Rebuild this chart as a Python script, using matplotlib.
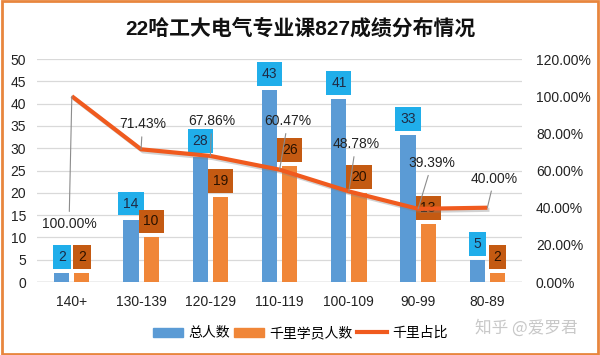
import numpy as np
import matplotlib.pyplot as plt
import matplotlib.patheffects as pe
from matplotlib.patches import Rectangle
from matplotlib.lines import Line2D
from matplotlib.patches import Patch

plt.rcParams['font.family'] = ['Liberation Sans', 'Noto Sans CJK SC', 'DejaVu Sans']

categories = ['140+', '130-139', '120-129', '110-119', '100-109', '90-99', '80-89']
total = [2, 14, 28, 43, 41, 33, 5]
qianli = [2, 10, 19, 26, 20, 13, 2]
ratio = [100.00, 71.43, 67.86, 60.47, 48.78, 39.39, 40.00]

# label offsets for the ratio labels (points)
ratio_off = [(-2, -92), (1, 18), (1, 25), (6, 35), (5, 34), (10, 33), (5, 21)]

blue = '#5B9BD5'
orange = '#F08638'
line_c = '#F05A1E'

fig = plt.figure(figsize=(6, 3.55), dpi=100)
fig.patches.append(Rectangle((0.004, 0.004), 0.992, 0.992, transform=fig.transFigure,
                             fill=False, edgecolor='#E8863E', linewidth=2))

ax = fig.add_axes([0.062, 0.2056, 0.808, 0.628])
x = np.arange(len(categories))
w = 0.22
ax.bar(x - 0.145, total, w, color=blue, zorder=2)
ax.bar(x + 0.145, qianli, w, color=orange, zorder=2)
ax.set_ylim(0, 50)
ax.set_xlim(-0.5, len(categories) - 0.5)
ax.set_yticks(range(0, 51, 5))
ax.grid(axis='y', color='#D9D9D9', linewidth=0.9, zorder=0)
ax.set_axisbelow(True)
for s in ax.spines.values():
    s.set_visible(False)
ax.tick_params(length=0, labelsize=10, colors='#222222')
ax.tick_params(axis='y', pad=8)
ax.tick_params(axis='x', pad=9)
ax.set_xticks(x)
ax.set_xticklabels(categories)
ax.axhline(0, color='#BFBFBF', linewidth=1, zorder=1)

for i in range(len(categories)):
    ax.annotate(str(total[i]), (x[i] - 0.145, total[i]), xytext=(0, 11.5),
                textcoords='offset points', ha='center', va='center', fontsize=10,
                color='#1F2A44', zorder=5,
                bbox=dict(boxstyle='square,pad=0.35', fc='#20AEEA', ec='none'))
    ax.annotate(str(qianli[i]), (x[i] + 0.145, qianli[i]), xytext=(0, 11.5),
                textcoords='offset points', ha='center', va='center', fontsize=10,
                color='#2A1200', zorder=5,
                bbox=dict(boxstyle='square,pad=0.35', fc='#C45A12', ec='none'))

ax2 = ax.twinx()
ax2.plot(x, ratio, color=line_c, linewidth=3, zorder=3, solid_capstyle='butt',
         path_effects=[pe.SimpleLineShadow(offset=(1.5, -1.5), shadow_color='gray', alpha=0.35),
                       pe.Normal()])
ax2.set_ylim(0, 120)
ax2.set_yticks(range(0, 121, 20))
ax2.set_yticklabels(['%.2f%%' % v for v in range(0, 121, 20)])
for s in ax2.spines.values():
    s.set_visible(False)
ax2.tick_params(length=0, labelsize=10, colors='#222222', pad=10)

for i in range(len(categories)):
    ax2.annotate('%.2f%%' % ratio[i], (x[i], ratio[i]), xytext=ratio_off[i],
                 textcoords='offset points', ha='center', va='center', fontsize=10,
                 color='#222222', zorder=6,
                 arrowprops=dict(arrowstyle='-', color='#8C8C8C', lw=0.8,
                                 shrinkA=2, shrinkB=0))

fig.text(0.5, 0.92, '22哈工大电气专业课827成绩分布情况', ha='center', va='center',
         fontsize=15, fontweight='bold', color='#111111')

handles = [Patch(color=blue), Patch(color=orange), Line2D([], [], color=line_c, lw=3)]
fig.legend(handles, ['总人数', '千里学员人数', '千里占比'], loc='center',
           bbox_to_anchor=(0.5, 0.062), ncol=3, frameon=False,
           handlelength=2.2, handleheight=0.6, columnspacing=0.3, handletextpad=0.35,
           prop={'family': ['Noto Sans CJK SC'], 'size': 10})

fig.text(0.878, 0.075, '知乎 @爱罗君', ha='center', va='center', fontsize=12,
         color='#C8C8C8', family=['Noto Sans CJK SC'])

fig.savefig('out.png', dpi=100)
